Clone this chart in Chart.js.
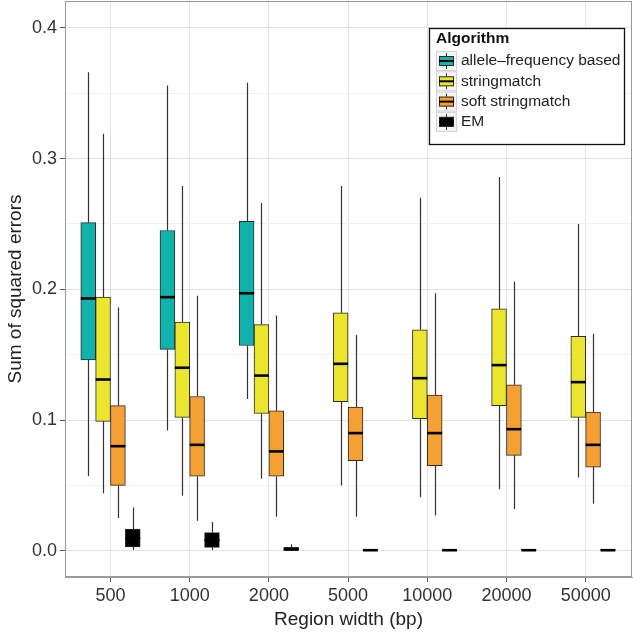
<!DOCTYPE html>
<html><head><meta charset="utf-8">
<script src="https://cdn.jsdelivr.net/npm/chart.js@4.4.1/dist/chart.umd.min.js"></script>
<style>html,body{margin:0;padding:0;background:#fff;}#wrap{width:633px;height:637px;position:relative;}</style>
</head><body><div id="wrap"><canvas id="c" width="633" height="637"></canvas></div>
<script>
// Region widths (x categories)
const categories = ['500','1000','2000','5000','10000','20000','50000'];
const algorithms = ['allele–frequency based','stringmatch','soft stringmatch','EM'];
// y tick values (major every 0.1, minor every 0.05)
const yTickValues = [0,0.05,0.1,0.15,0.2,0.25,0.3,0.35,0.4];
// five-number summaries [min, q1, median, q3, max] per region width
const alleleFreq = [
  [0.057,0.146,0.193,0.251,0.366],
  [0.092,0.154,0.194,0.245,0.356],
  [0.116,0.157,0.197,0.252,0.358],
  null, null, null, null
];
const stringmatch = [
  [0.044,0.099,0.131,0.194,0.319],
  [0.042,0.102,0.140,0.175,0.279],
  [0.055,0.105,0.134,0.173,0.266],
  [0.050,0.114,0.143,0.182,0.279],
  [0.041,0.101,0.132,0.169,0.270],
  [0.047,0.111,0.142,0.185,0.286],
  [0.056,0.102,0.129,0.164,0.250]
];
const softStringmatch = [
  [0.025,0.050,0.080,0.111,0.186],
  [0.023,0.057,0.081,0.118,0.195],
  [0.026,0.057,0.076,0.107,0.180],
  [0.026,0.069,0.090,0.110,0.165],
  [0.027,0.065,0.090,0.119,0.197],
  [0.032,0.073,0.093,0.127,0.206],
  [0.036,0.064,0.081,0.106,0.166]
];
const emAlgo = [
  [0.0005,0.0030,0.0095,0.0165,0.033],
  [0.0005,0.0026,0.0080,0.0138,0.022],
  [0.0000,0.0003,0.0010,0.0026,0.005],
  [0.0000,0.0000,0.0004,0.0008,0.0012],
  [0.0000,0.0000,0.0004,0.0008,0.0012],
  [0.0000,0.0000,0.0004,0.0008,0.0012],
  [0.0000,0.0000,0.0004,0.0008,0.0012]
];

const seriesList = [alleleFreq, stringmatch, softStringmatch, emAlgo];
const fillColors = ['#12b2ac','#ebe62d','#f5a033','#000000'];
const FONT = "'Liberation Sans', Arial, Helvetica, sans-serif";

const datasets = seriesList.map((series, k) => {
  const data = [], stats = [];
  series.forEach((s, i) => {
    if (!s) return;
    data.push({x: i + 1, y: [s[1], s[3]]});
    stats.push(s);
  });
  return {
    label: algorithms[k], data, stats,
    backgroundColor: fillColors[k], borderColor: '#2b2b2b', borderWidth: 1,
    borderSkipped: false, barThickness: 14.85, grouped: true
  };
});

const isMajor = v => Math.abs(v * 10 - Math.round(v * 10)) < 1e-6;

const boxExtras = {
  id: 'boxExtras',
  afterDatasetsDraw(chart) {
    const ctx = chart.ctx, ys = chart.scales.y;
    chart.data.datasets.forEach((ds, di) => {
      const meta = chart.getDatasetMeta(di);
      meta.data.forEach((bar, j) => {
        const s = ds.stats[j];
        const x = Math.round(bar.x) + 0.5, w = bar.width;
        ctx.save();
        ctx.strokeStyle = '#333'; ctx.lineWidth = 1.2;
        ctx.beginPath();
        ctx.moveTo(x, ys.getPixelForValue(s[3])); ctx.lineTo(x, ys.getPixelForValue(s[4]));
        ctx.moveTo(x, ys.getPixelForValue(s[1])); ctx.lineTo(x, ys.getPixelForValue(s[0]));
        ctx.stroke();
        ctx.strokeStyle = '#000'; ctx.lineWidth = 2.6;
        const my = ys.getPixelForValue(s[2]);
        ctx.beginPath(); ctx.moveTo(bar.x - w / 2, my); ctx.lineTo(bar.x + w / 2, my); ctx.stroke();
        ctx.restore();
      });
    });
  }
};

const panelBorder = {
  id: 'panelBorder',
  afterDraw(chart) {
    const {ctx, chartArea: a} = chart;
    ctx.save();
    ctx.strokeStyle = '#9a9a9a'; ctx.lineWidth = 1;
    ctx.strokeRect(Math.round(a.left) + 0.5, Math.round(a.top) + 0.5, Math.round(a.right - a.left) - 1, Math.round(a.bottom - a.top) - 1);
    ctx.restore();
  }
};

const boxLegend = {
  id: 'boxLegend',
  afterDraw(chart) {
    const ctx = chart.ctx;
    const L = 429.5, T = 28.5, W = 195, H = 116;
    ctx.save();
    ctx.fillStyle = '#fff'; ctx.fillRect(L, T, W, H);
    ctx.strokeStyle = '#111'; ctx.lineWidth = 1.3; ctx.strokeRect(L, T, W, H);
    ctx.fillStyle = '#111'; ctx.textBaseline = 'middle'; ctx.textAlign = 'left';
    ctx.font = 'bold 15.5px ' + FONT;
    ctx.fillText('Algorithm', 436, 39);
    ctx.font = '15.5px ' + FONT;
    algorithms.forEach((name, k) => {
      const cy = 61 + k * 20.3;
      const kx = 436, ky = cy - 10;
      ctx.fillStyle = '#f4f4f4'; ctx.fillRect(kx, ky, 21, 20);
      ctx.strokeStyle = '#d2d2d2'; ctx.lineWidth = 1; ctx.strokeRect(kx + 0.5, ky + 0.5, 20, 19);
      ctx.strokeStyle = '#333'; ctx.lineWidth = 1;
      ctx.beginPath(); ctx.moveTo(kx + 10.5, ky + 2); ctx.lineTo(kx + 10.5, ky + 18); ctx.stroke();
      ctx.fillStyle = fillColors[k]; ctx.fillRect(kx + 3, cy - 5, 15, 10);
      ctx.strokeStyle = '#2b2b2b'; ctx.strokeRect(kx + 3.5, cy - 4.5, 14, 9);
      ctx.strokeStyle = '#000'; ctx.lineWidth = 2;
      ctx.beginPath(); ctx.moveTo(kx + 3, cy); ctx.lineTo(kx + 18, cy); ctx.stroke();
      ctx.fillStyle = '#222';
      ctx.fillText(name, 461, cy);
    });
    ctx.restore();
  }
};

new Chart(document.getElementById('c'), {
  type: 'bar',
  data: {datasets},
  plugins: [boxExtras, panelBorder, boxLegend],
  options: {
    responsive: false, animation: false, devicePixelRatio: 1,
    layout: {padding: {top: 1, right: 1, left: 0, bottom: 0}},
    plugins: {legend: {display: false}, tooltip: {enabled: false}},
    scales: {
      x: {
        type: 'linear', min: 0.4255, max: 7.585, offset: false,
        afterBuildTicks: s => { s.ticks = categories.map((c, i) => ({value: i + 1})); },
        afterFit: s => { s.height = 60; s.paddingLeft = 0; s.paddingRight = 0; },
        grid: {offset: false, color: '#e2e2e2', tickColor: '#555', tickLength: 5, lineWidth: 1},
        border: {display: true, color: '#9a9a9a'},
        ticks: {autoSkip: false, maxRotation: 0, padding: 3, color: '#333',
          font: {family: FONT, size: 18},
          callback: v => categories[Math.round(v) - 1]},
        title: {display: true, text: 'Region width (bp)', color: '#222',
          font: {family: FONT, size: 19}, padding: {top: 0, bottom: 6}}
      },
      y: {
        type: 'linear', min: -0.0201, max: 0.4206,
        afterBuildTicks: s => { s.ticks = yTickValues.map(v => ({value: v})); },
        afterFit: s => { s.width = 65; s.paddingTop = 0; s.paddingBottom = 0; },
        grid: {
          color: c => isMajor(c.tick.value) ? '#e2e2e2' : '#f1f1f1',
          tickColor: c => isMajor(c.tick.value) ? '#555' : 'rgba(0,0,0,0)',
          tickLength: 5, lineWidth: 1
        },
        border: {display: true, color: '#9a9a9a'},
        ticks: {padding: 3, color: '#333', font: {family: FONT, size: 18},
          callback: v => isMajor(v) ? v.toFixed(1) : ''},
        title: {display: true, text: 'Sum of squared errors', color: '#222',
          font: {family: FONT, size: 19}, padding: {top: 4, bottom: 0}}
      }
    }
  }
});
</script></body></html>
